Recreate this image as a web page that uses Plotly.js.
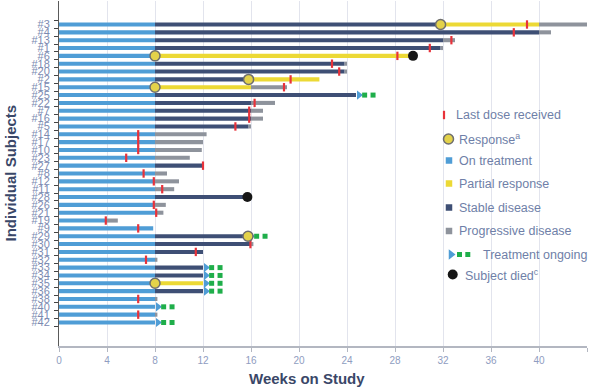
<!DOCTYPE html>
<html>
<head>
<meta charset="utf-8">
<script src="https://cdn.plot.ly/plotly-3.0.1.min.js"></script>
<style>html,body{margin:0;padding:0;background:#fff;}#chart{width:592px;height:389px;}</style>
</head>
<body>
<div id="chart"></div>
<script>
// ---- data (weeks on study) ----
const subjects = ['#3','#4','#13','#1','#6','#18','#20','#2','#15','#25','#22','#7','#16','#5','#14','#17','#10','#23','#27','#8','#12','#11','#28','#26','#21','#19','#9','#29','#30','#31','#32','#33','#34','#35','#36','#38','#40','#41','#42'];
const onTreatEnd = [8,8,8,8,8,8,8,8,8,8,8,8,8,8,8,8,8,8,8,8,8,8,8,8,8,3.9,7.85,8,8,8,8,8,8,8,8,8,8,8,8];
const stableEnd = [31.8,40,32,31.8,null,23.8,23.8,15.8,null,24.75,16,16,16,15.8,null,null,null,null,12,null,null,null,15.7,null,null,null,null,15.75,16,12,null,12,12,null,12,null,null,null,null];
const partialEnd = [40,null,null,null,29.5,null,null,21.7,16,null,null,null,null,null,null,null,null,null,null,null,null,null,null,null,null,null,null,null,null,null,null,null,null,12,null,null,null,null,null];
const progEnd = [44,41,33,32,null,24,24,null,19,null,18,17,17,16,12.3,12,11.9,10.9,null,9,10,9.6,null,8.9,8.7,4.9,null,null,16.2,null,8.2,null,null,null,null,8.2,null,8.2,null];
const lastDose = [39.0,37.9,32.7,30.9,28.2,22.75,23.35,19.3,18.75,null,16.3,15.85,15.85,14.7,6.6,6.6,6.6,5.6,12.0,7.05,7.9,8.6,null,7.9,8.1,3.9,6.6,null,15.95,11.4,7.25,null,null,null,null,6.6,null,6.6,null];
const responseWeek = [31.8,null,null,null,8,null,null,15.8,8,null,null,null,null,null,null,null,null,null,null,null,null,null,null,null,null,null,null,15.75,null,null,null,null,null,8,null,null,null,null,null];
const diedWeek = [null,null,null,null,29.5,null,null,null,null,null,null,null,null,null,null,null,null,null,null,null,null,null,15.7,null,null,null,null,null,null,null,null,null,null,null,null,null,null,null,null];
const ongoingSubjects = ['#25','#29','#33','#34','#35','#36','#40','#42'];
const xTicks = [0,4,8,12,16,20,24,28,32,36,40,44];

// ---- colours ----
const C = {on:'#4f9dd6', pr:'#ecd935', sd:'#3e4f75', pd:'#8e939c', dose:'#e8323a', green:'#1fae4a', died:'#161616', circ:'#e3d24a'};
const FONT = 'Liberation Sans, Arial, sans-serif';
const BW = 0.52;

const n = subjects.length;
const sdBase=[], sdLen=[], prBase=[], prLen=[], pdBase=[], pdLen=[], barEnd=[];
for (let i=0;i<n;i++){
  const a = onTreatEnd[i];
  sdBase.push(a); sdLen.push(stableEnd[i]!=null ? stableEnd[i]-a : null);
  const b = stableEnd[i]!=null ? stableEnd[i] : a;
  prBase.push(b); prLen.push(partialEnd[i]!=null ? partialEnd[i]-b : null);
  const c = partialEnd[i]!=null ? partialEnd[i] : b;
  pdBase.push(c); pdLen.push(progEnd[i]!=null ? progEnd[i]-c : null);
  barEnd.push(progEnd[i]!=null ? progEnd[i] : c);
}
function bar(x, base, color){
  return {type:'bar', orientation:'h', y:subjects, x:x, base:base, width:BW,
    marker:{color:color, line:{width:0}}, hoverinfo:'skip', showlegend:false};
}
const ong = subjects.map((s,i)=>ongoingSubjects.includes(s)?i:-1).filter(i=>i>=0);
const traces = [
  bar(onTreatEnd, subjects.map(()=>0), C.on),
  bar(sdLen, sdBase, C.sd),
  bar(prLen, prBase, C.pr),
  bar(pdLen, pdBase, C.pd),
  {type:'scatter', mode:'markers', y:ong.map(i=>subjects[i]), x:ong.map(i=>barEnd[i]+0.25),
   marker:{symbol:'triangle-right', size:8, color:C.on}, hoverinfo:'skip', showlegend:false},
  {type:'scatter', mode:'markers', y:ong.map(i=>subjects[i]).concat(ong.map(i=>subjects[i])),
   x:ong.map(i=>barEnd[i]+0.72).concat(ong.map(i=>barEnd[i]+1.42)),
   marker:{symbol:'square', size:5, color:C.green}, hoverinfo:'skip', showlegend:false},
  {type:'scatter', mode:'markers', y:subjects, x:lastDose,
   marker:{symbol:'line-ns', size:6, line:{color:C.dose, width:2.2}}, hoverinfo:'skip', showlegend:false},
  {type:'scatter', mode:'markers', y:subjects, x:responseWeek,
   marker:{symbol:'circle', size:10, color:C.circ, line:{color:'#6e6e6e', width:1.5}}, hoverinfo:'skip', showlegend:false},
  {type:'scatter', mode:'markers', y:subjects, x:diedWeek,
   marker:{symbol:'circle', size:10, color:C.died}, hoverinfo:'skip', showlegend:false}
];

// ---- legend (pixel overlay axes) ----
const legItems = [
  {label:'Last dose received', y:115, tx:454},
  {label:'Response<sup>a</sup>', y:139, tx:456.5},
  {label:'On treatment', y:160.5, tx:457},
  {label:'Partial response', y:183.5, tx:457},
  {label:'Stable disease', y:207.5, tx:457},
  {label:'Progressive disease', y:231, tx:457},
  {label:'Treatment ongoing', y:254.5, tx:480.5},
  {label:'Subject died<sup>c</sup>', y:274.5, tx:462.5}
];
function legMarker(x, y, m){
  return {type:'scatter', mode:'markers', xaxis:'x2', yaxis:'y2', x:x, y:y, marker:m, hoverinfo:'skip', showlegend:false};
}
const L = legItems;
traces.push(
  legMarker([444],[L[0].y],{symbol:'line-ns', size:6, line:{color:C.dose, width:2.2}}),
  legMarker([448.5],[L[1].y],{symbol:'circle', size:10, color:C.circ, line:{color:'#6e6e6e', width:1.5}}),
  legMarker([449],[L[2].y],{symbol:'square', size:6.5, color:C.on}),
  legMarker([449],[L[3].y],{symbol:'square', size:6.5, color:C.pr}),
  legMarker([449],[L[4].y],{symbol:'square', size:6.5, color:C.sd}),
  legMarker([449],[L[5].y],{symbol:'square', size:6.5, color:C.pd}),
  legMarker([451],[L[6].y],{symbol:'triangle-right', size:9, color:C.on}),
  legMarker([459.5,467.8],[L[6].y,L[6].y],{symbol:'square', size:5, color:C.green}),
  legMarker([452.7],[L[7].y],{symbol:'circle', size:10, color:C.died})
);

const ML=59, MR=5, MT=1, MB=43, W=592, H=389;
const PW = W-ML-MR, PH = H-MT-MB;
const px2x = p => (p-ML)/PW, px2y = p => (H-MB-p)/PH;

const annotations = legItems.map(it=>({xref:'x2', yref:'y2', x:it.tx, y:it.y, text:it.label,
  showarrow:false, xanchor:'left', yanchor:'middle', font:{family:FONT, size:12.5, color:'#6f7fa8'}}));
annotations.push(
  {xref:'paper', yref:'paper', x:px2x(306.7), y:px2y(379), text:'<b>Weeks on Study</b>', showarrow:false,
   xanchor:'center', yanchor:'middle', font:{family:FONT, size:15, color:'#3a4768'}},
  {xref:'paper', yref:'paper', x:px2x(10), y:0.5, text:'<b>Individual Subjects</b>', showarrow:false, textangle:-90,
   xanchor:'center', yanchor:'middle', font:{family:FONT, size:15, color:'#3a4768'}}
);

const layout = {
  width:W, height:H, margin:{l:ML, r:MR, t:MT, b:MB, pad:0},
  paper_bgcolor:'#fff', plot_bgcolor:'#fff', barmode:'overlay', showlegend:false,
  font:{family:FONT},
  xaxis:{range:[0,44], tickmode:'array', tickvals:xTicks, ticktext:xTicks.map(String), showgrid:true, gridcolor:'#e2e4ed', gridwidth:1,
    zeroline:false, showline:true, linecolor:'#b3b7c1', linewidth:2, ticks:'outside', ticklen:4, tickcolor:'#b3b7c1',
    tickfont:{family:FONT, size:10, color:'#8f9dc1'}, fixedrange:true},
  yaxis:{type:'category', categoryorder:'array', categoryarray:subjects, autorange:'reversed',
    tickmode:'array', tickvals:subjects, ticktext:subjects,
    showgrid:false, zeroline:false, showline:true, linecolor:'#5a5a5a', linewidth:1,
    ticks:'outside', ticklen:4, tickcolor:'#444', tickson:'boundaries', ticklabelstandoff:6,
    tickfont:{family:FONT, size:11, color:'#7b8ab1'}, fixedrange:true},
  xaxis2:{overlaying:'x', anchor:'y2', range:[ML, W-MR], visible:false, fixedrange:true},
  yaxis2:{overlaying:'y', anchor:'x2', range:[H-MB, MT], visible:false, fixedrange:true},
  annotations:annotations
};
Plotly.newPlot('chart', traces, layout, {staticPlot:true, displayModeBar:false});
</script>
</body>
</html>
